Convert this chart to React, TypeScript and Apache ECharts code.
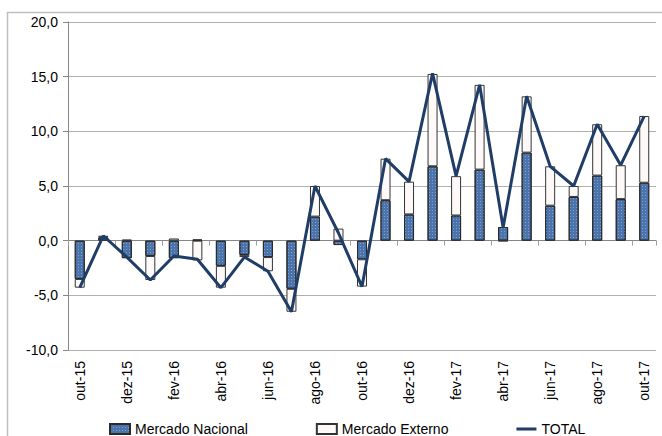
import React, { useEffect, useRef } from "react";
import * as echarts from "echarts";

const categories = [
  "out-15", "nov-15", "dez-15", "jan-16", "fev-16", "mar-16", "abr-16", "mai-16", "jun-16",
  "jul-16", "ago-16", "set-16", "out-16", "nov-16", "dez-16", "jan-17", "fev-17", "mar-17",
  "abr-17", "mai-17", "jun-17", "jul-17", "ago-17", "set-17", "out-17",
];
const mercadoNacional = [
  -3.5, 0.3, -1.6, -1.4, -1.6, 0.1, -2.3, -1.3, -1.5, -4.4, 2.2, -0.4, -1.7, 3.7, 2.4, 6.8,
  2.3, 6.5, 1.25, 8.05, 3.2, 4.0, 5.95, 3.8, 5.3,
];
const mercadoExterno = [
  -0.8, 0.15, 0.1, -2.2, 0.2, -1.8, -2.0, -0.2, -1.3, -2.1, 2.8, 1.1, -2.5, 3.8, 3.0, 8.45,
  3.6, 7.75, -0.05, 5.15, 3.6, 1.0, 4.7, 3.1, 6.1,
];
const total = [
  -4.3, 0.45, -1.5, -3.6, -1.4, -1.7, -4.3, -1.5, -2.8, -6.5, 5.0, 0.7, -4.2, 7.5, 5.4, 15.3,
  5.9, 14.25, 1.2, 13.2, 6.8, 5.0, 10.65, 6.9, 11.4,
];
const yTicks = { min: -10, max: 20, interval: 5 };

const FONT = "'Liberation Sans', Arial, sans-serif";

export default function App() {
  const ref = useRef<HTMLDivElement>(null);
  useEffect(() => {
    if (!ref.current) return;
    const chart = echarts.init(ref.current, undefined, { renderer: "svg" });
    chart.setOption({
      animation: false,
      backgroundColor: "#ffffff",
      textStyle: { fontFamily: FONT },
      graphic: [
        {
          type: "rect",
          shape: { x: 7.5, y: 12.5, width: 700, height: 500 },
          style: { fill: "none", stroke: "#bfbfbf", lineWidth: 1.5 },
          silent: true,
          z: -10,
        },
      ],
      grid: { left: 68, right: 6, top: 22, bottom: 86, containLabel: false },
      legend: {
        left: 104,
        top: 417,
        itemWidth: 20,
        itemHeight: 10,
        itemGap: 68,
        textStyle: { fontFamily: FONT, fontSize: 14, color: "#000" },
        data: [
          { name: "Mercado Nacional", icon: "rect" },
          { name: "Mercado Externo", icon: "rect" },
          { name: "TOTAL", icon: "path://M0,0 L20,0 L20,3 L0,3 Z" },
        ],
      },
      xAxis: [
        {
          type: "category",
          data: categories,
          position: "bottom",
          axisLine: { onZero: true, lineStyle: { color: "#868686", width: 1 } },
          axisTick: { show: true, interval: 1, length: 5, lineStyle: { color: "#a0a0a0" } },
          axisLabel: { show: false },
          splitLine: { show: false },
        },
        {
          type: "category",
          data: categories,
          position: "bottom",
          axisLine: { show: false, onZero: false },
          axisTick: { show: false },
          axisLabel: {
            interval: 1,
            rotate: 90,
            margin: 11,
            fontFamily: FONT,
            fontSize: 14,
            color: "#000",
          },
        },
      ],
      yAxis: {
        type: "value",
        min: yTicks.min,
        max: yTicks.max,
        interval: yTicks.interval,
        axisLine: { show: true, lineStyle: { color: "#868686" } },
        axisTick: { show: true, length: 5, lineStyle: { color: "#868686" } },
        axisLabel: {
          margin: 10,
          fontFamily: FONT,
          fontSize: 14,
          color: "#000",
          formatter: (v: number) => v.toFixed(1).replace(".", ","),
        },
        splitLine: { show: true, lineStyle: { color: "#b0b0b0", width: 1 } },
      },
      series: [
        {
          name: "Mercado Nacional",
          type: "bar",
          stack: "m",
          xAxisIndex: 0,
          barWidth: 10,
          data: mercadoNacional,
          itemStyle: {
            color: "#4c74ac",
            borderColor: "#2a2a2a",
            borderWidth: 1,
            decal: {
              symbol: "rect",
              symbolSize: 1,
              dashArrayX: [1, 2],
              dashArrayY: [1, 2],
              color: "rgba(190,210,240,0.45)",
            },
          },
        },
        {
          name: "Mercado Externo",
          type: "bar",
          stack: "m",
          xAxisIndex: 0,
          barWidth: 10,
          data: mercadoExterno,
          itemStyle: { color: "#fdf9f9", borderColor: "#333333", borderWidth: 1 },
        },
        {
          name: "TOTAL",
          type: "line",
          xAxisIndex: 0,
          data: total,
          symbol: "none",
          lineStyle: { color: "#1f3d66", width: 3 },
          itemStyle: { color: "#1f3d66" },
          z: 5,
        },
      ],
    });
    return () => chart.dispose();
  }, []);
  return (
    <div
      ref={ref}
      style={{ position: "absolute", left: 0, top: 0, width: 662, height: 436 }}
    />
  );
}
